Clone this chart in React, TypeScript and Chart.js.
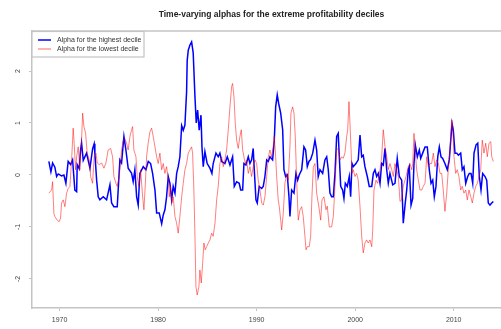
import { useEffect, useRef } from "react";
import { Chart, registerables } from "chart.js";

Chart.register(...registerables);

const TITLE = "Time-varying alphas for the extreme profitability deciles";
const SERIES_LABELS = ["Alpha for the highest decile", "Alpha for the lowest decile"];
const X_TICKS = [1970, 1980, 1990, 2000, 2010];
const Y_TICKS = [-2, -1, 0, 1, 2];
const X_MIN = 1967.2;
const X_MAX = 2014.8;
const Y_MIN = -2.56;
const Y_MAX = 2.77;

// Highest decile (blue)
const highYears = [
  1968.91, 1969.12, 1969.29, 1969.52, 1969.70, 1969.86, 1970.20, 1970.44, 1970.64, 1970.87,
  1971.12, 1971.32, 1971.55, 1971.73, 1971.79, 1971.99, 1972.13, 1972.23, 1972.40, 1972.74,
  1973.08, 1973.35, 1973.51, 1973.58, 1973.76, 1973.92, 1974.09, 1974.43, 1974.77,
  1975.11, 1975.28, 1975.51, 1975.85, 1976.12, 1976.29, 1976.53, 1976.73, 1976.96,
  1977.31, 1977.47, 1977.64, 1977.82, 1977.98, 1978.15, 1978.49, 1978.76,
  1979.00, 1979.24, 1979.44, 1979.68, 1979.85,
  1980.11, 1980.36, 1980.52, 1980.69, 1980.86, 1981.03, 1981.20, 1981.37, 1981.53, 1981.71, 1981.88,
  1982.04, 1982.21, 1982.39, 1982.55, 1982.72, 1982.89, 1982.95, 1983.06, 1983.23, 1983.40, 1983.56, 1983.74, 1983.87,
  1984.01, 1984.17, 1984.35, 1984.45, 1984.58, 1984.75, 1984.98, 1985.26, 1985.46, 1985.59, 1985.87,
  1986.10, 1986.27, 1986.45, 1986.78, 1987.02, 1987.29, 1987.56, 1987.73, 1987.97,
  1988.23, 1988.38, 1988.58, 1988.71, 1988.91, 1989.15, 1989.32, 1989.49, 1989.65, 1989.76, 1989.93,
  1990.06, 1990.26, 1990.51, 1990.67, 1990.84, 1991.02, 1991.18, 1991.35, 1991.62, 1991.79, 1991.93,
  1992.09, 1992.23, 1992.44, 1992.64, 1992.77, 1992.94, 1993.11, 1993.28, 1993.38, 1993.55, 1993.79, 1993.99,
  1994.16, 1994.32, 1994.57, 1994.80, 1994.97, 1995.14, 1995.31, 1995.48, 1995.69, 1995.92,
  1996.09, 1996.25, 1996.43, 1996.70, 1996.93, 1997.11, 1997.27, 1997.44, 1997.61, 1997.78, 1997.95,
  1998.12, 1998.28, 1998.39, 1998.53, 1998.73, 1998.86, 1999.00, 1999.20, 1999.40, 1999.54, 1999.68, 1999.81,
  2000.08, 2000.31, 2000.49, 2000.66, 2000.82, 2000.99, 2001.23, 2001.43, 2001.68, 2001.84,
  2002.01, 2002.18, 2002.35, 2002.52, 2002.69, 2002.85, 2003.03, 2003.20, 2003.36, 2003.53, 2003.81,
  2004.04, 2004.27, 2004.48, 2004.72, 2004.88, 2005.06, 2005.23, 2005.39, 2005.49, 2005.67, 2005.84, 2005.97,
  2006.10, 2006.31, 2006.51, 2006.65, 2006.85, 2007.09, 2007.32, 2007.52, 2007.70, 2007.87,
  2008.03, 2008.20, 2008.38, 2008.54, 2008.71, 2008.88, 2009.11, 2009.35, 2009.55, 2009.73, 2009.83, 2009.96,
  2010.13, 2010.31, 2010.47, 2010.71, 2010.87, 2011.04, 2011.22, 2011.42, 2011.58, 2011.76, 2011.93,
  2012.06, 2012.27, 2012.44, 2012.60, 2012.77, 2012.94, 2013.18, 2013.35, 2013.51, 2013.68, 2013.86, 2014.02,
];
const highValues = [
  0.26, 0.06, 0.23, 0.15, -0.03, 0.02, -0.02, 0.0, -0.16, 0.26,
  0.2, 0.29, -0.29, -0.32, 0.2, 0.12, 0.48, 0.62, 0.28, 0.42,
  0.13, 0.5, 0.6, 0.42, -0.1, -0.42, -0.48, -0.42, -0.48,
  -0.19, -0.54, -0.61, -0.61, 0.29, 0.23, 0.74, 0.48, 0.13,
  0.03, -0.13, 0.1, -0.42, -0.58, 0.03, 0.16, 0.1,
  0.26, 0.22, 0.03, -0.29, -0.73,
  -0.73, -0.94, -0.77, -0.67, -0.42, -0.03, -0.16, -0.48, -0.22, -0.35, 0.03,
  0.16, 0.35, 0.95, 0.86, 0.96, 1.6, 2.2, 2.4, 2.5, 2.56, 2.35, 1.5, 1.0,
  1.25, 0.86, 1.15, 0.54, 0.16, 0.45, 0.22, 0.13, 0.03, 0.22, 0.42,
  0.35, 0.42, 0.26, 0.22, 0.35, 0.19, 0.35, -0.22, -0.13,
  -0.16, -0.29, -0.29, 0.22, 0.19, 0.35, 0.22, 0.29, 0.51, 0.1, -0.48,
  -0.54, -0.22, -0.26, -0.22, -0.03, 0.29, 0.26, 0.35, 0.29, 0.67, 1.31,
  1.54, 1.38, 1.19, 0.87, 0.1, -0.03, 0.0, -0.42, -0.8, -0.29, -0.35, 0.03,
  -0.1, 0.0, 0.1, 0.54, 0.48, 0.16, 0.26, 0.3, 0.42, 0.67,
  0.48, -0.03, 0.1, 0.03, 0.29, 0.35, 0.1, -0.35, -0.42, -0.42, 0.03,
  0.74, 0.8, 0.35, -0.22, -0.29, -0.45, -0.16, -0.22, -0.03, -0.42, 0.22, 0.16,
  0.22, 0.29, 0.77, 0.35, 0.38, 0.16, -0.03, -0.22, -0.22, 0.03,
  0.1, -0.03, 0.03, -0.16, 0.22, 0.19, 0.51, 0.1, -0.16, 0.03, -0.19,
  -0.16, 0.32, -0.03, -0.1, -0.93, -0.58, -0.29, 0.1, 0.16, -0.58, -0.45, 0.22,
  0.58, 0.35, 0.48, 0.32, 0.42, 0.54, 0.54, 0.1, -0.16, -0.1,
  -0.42, -0.22, 0.35, 0.54, 0.35, 0.32, 0.22, 0.1, 0.29, 0.74, 0.99, 0.86,
  0.42, 0.42, 0.38, 0.42, 0.1, 0.16, -0.16, -0.03, 0.03, 0.03, -0.16,
  0.42, 0.58, 0.61, -0.03, -0.29, 0.03, -0.03, -0.1, -0.54, -0.58, -0.54, -0.51,
];

// Lowest decile (red)
const lowYears = [
  1968.91, 1969.19, 1969.29, 1969.42, 1969.52, 1969.76, 1969.96, 1970.10, 1970.20, 1970.37, 1970.54, 1970.71, 1970.87,
  1971.05, 1971.22, 1971.32, 1971.38, 1971.48, 1971.62, 1971.73, 1971.89, 1972.06, 1972.23, 1972.34, 1972.47, 1972.64, 1972.80,
  1973.01, 1973.15, 1973.35, 1973.51, 1973.69, 1973.82, 1974.02, 1974.26, 1974.50, 1974.70, 1974.93,
  1975.18, 1975.38, 1975.51, 1975.72, 1975.85, 1976.05, 1976.29, 1976.46, 1976.63, 1976.80, 1976.96,
  1977.14, 1977.31, 1977.41, 1977.54, 1977.75, 1977.88, 1978.05, 1978.22, 1978.43, 1978.56, 1978.69, 1978.83, 1978.99,
  1979.17, 1979.34, 1979.50, 1979.68, 1979.85,
  1980.01, 1980.18, 1980.36, 1980.52, 1980.69, 1980.86, 1981.03, 1981.13, 1981.27, 1981.40, 1981.53, 1981.71, 1981.88,
  1982.04, 1982.21, 1982.39, 1982.55, 1982.72, 1982.89, 1983.06, 1983.23, 1983.40, 1983.50, 1983.63, 1983.74, 1983.84, 1983.97,
  1984.14, 1984.24, 1984.38, 1984.52, 1984.65, 1984.78, 1984.92, 1985.09, 1985.26, 1985.43, 1985.59, 1985.77, 1985.94,
  1986.10, 1986.27, 1986.45, 1986.61, 1986.78, 1986.95, 1987.12, 1987.29, 1987.46, 1987.56, 1987.70, 1987.83, 1987.97,
  1988.13, 1988.30, 1988.44, 1988.58, 1988.71, 1988.84, 1988.98, 1989.15, 1989.32, 1989.49, 1989.65, 1989.83,
  1990.00, 1990.16, 1990.34, 1990.51, 1990.67, 1990.84, 1991.02, 1991.18, 1991.35, 1991.52, 1991.68, 1991.79, 1991.93,
  1992.03, 1992.19, 1992.30, 1992.44, 1992.54, 1992.70, 1992.87, 1993.05, 1993.21, 1993.38, 1993.48, 1993.65, 1993.79, 1993.92,
  1994.06, 1994.22, 1994.40, 1994.57, 1994.73, 1994.90, 1995.01, 1995.14, 1995.34, 1995.48, 1995.61, 1995.75, 1995.92,
  1996.09, 1996.36, 1996.50, 1996.63, 1996.83, 1997.04, 1997.17, 1997.37, 1997.61, 1997.78, 1997.95,
  1998.12, 1998.28, 1998.46, 1998.63, 1998.79, 1998.96, 1999.14, 1999.24, 1999.37, 1999.47, 1999.57, 1999.68, 1999.81, 1999.98,
  2000.15, 2000.31, 2000.49, 2000.66, 2000.82, 2000.99, 2001.16, 2001.33, 2001.50, 2001.68, 2001.78, 2001.91,
  2002.11, 2002.28, 2002.52, 2002.69, 2002.85, 2003.03, 2003.20, 2003.36, 2003.53, 2003.71, 2003.87,
  2004.04, 2004.21, 2004.38, 2004.55, 2004.72, 2004.88, 2005.16, 2005.39, 2005.56, 2005.74, 2005.84, 2005.97,
  2006.07, 2006.24, 2006.41, 2006.58, 2006.75, 2006.91, 2007.09, 2007.26, 2007.42, 2007.59, 2007.76, 2007.93,
  2008.10, 2008.27, 2008.44, 2008.61, 2008.78, 2008.94, 2009.11, 2009.29, 2009.45, 2009.62, 2009.80, 2009.90,
  2010.03, 2010.20, 2010.36, 2010.53, 2010.71, 2010.87, 2011.04, 2011.22, 2011.38, 2011.55, 2011.73, 2011.89,
  2012.06, 2012.23, 2012.40, 2012.57, 2012.74, 2012.90, 2013.07, 2013.25, 2013.41, 2013.58, 2013.76, 2013.86, 2014.02,
];
const lowValues = [
  -0.35, -0.29, -0.13, -0.74, -0.8, -0.87, -0.9, -0.83, -0.54, -0.48, -0.61, -0.35, -0.26,
  -0.22, 0.29, 0.67, 0.9, 0.61, 0.1, 0.35, 0.54, 0.1, 0.67, 1.19, 0.93, 0.8, 0.42,
  0.29, -0.03, -0.16, 0.35, 0.42, 0.23, 0.2, 0.23, 0.13, 0.23, 0.48,
  0.51, 0.35, -0.03, -0.16, -0.22, -0.03, 0.48, 0.67, 0.7, 0.61, 0.48,
  0.74, 0.87, 0.93, 0.48, 0.35, -0.03, -0.22, 0.1, -0.42, -0.67, -0.22, 0.35, 0.61,
  0.83, 0.9, 0.74, 0.54, 0.35,
  0.22, 0.42, 0.1, 0.22, 0.03, 0.16, -0.1, -0.42, -0.22, -0.54, -0.42, -0.8, -0.93,
  -1.12, -0.8, -0.42, -0.16, 0.1, 0.22, 0.42, 0.48, 0.54, 0.42, -0.29, -1.18, -2.15, -2.31,
  -2.15, -1.83, -2.08, -1.7, -1.31, -1.44, -1.38, -1.31, -1.25, -1.12, -1.18, -0.93, -0.48,
  -0.22, 0.22, 0.35, 0.16, 0.29, 0.48, 0.87, 1.31, 1.7, 1.76, 1.5, 0.99, 0.67,
  0.51, 0.74, 0.87, 0.48, 0.35, 0.22, 0.29, 0.03, 0.16, -0.03, 0.16, 0.29,
  0.22, -0.1, -0.29, -0.54, -0.58, -0.42, -0.03, 0.35, 0.48, 0.35, 0.54, 0.74, 0.35,
  -0.03, -0.48, -0.61, -0.87, -1.06, -0.74, -0.16, 0.03, -0.1, 0.54, 1.19, 1.31, 1.19, 0.74,
  -0.1, -0.87, -0.67, -0.61, -0.8, -1.18, -1.44, -1.38, -1.38, -1.18, -0.42, 0.15, 0.22,
  -0.35, -0.67, -0.87, -0.48, -0.42, -0.67, -0.6, -1.0, -1.0, -0.8, -0.22,
  0.48, 0.51, 0.29, 0.35, 0.32, 0.42, 0.74, 0.87, 1.41, 0.99, 0.54, 0.03, 0.1, -0.03,
  0.03, -0.1, -0.61, -1.18, -1.5, -1.31, -1.25, -1.31, -1.25, -1.38, -1.06, -0.29,
  -0.1, -0.16, 0.1, 0.35, 0.87, 0.54, 0.35, 0.1, 0.22, 0.1, -0.03,
  0.22, 0.1, -0.03, -0.51, -0.48, -0.22, -0.03, 0.16, 0.22, 0.1, 0.22, 0.8,
  0.54, 0.1, -0.1, -0.29, -0.29, -0.22, -0.16, 0.35, 0.16, 0.22, 0.22, 0.42,
  0.16, 0.29, 0.22, 0.03, 0.03, -0.29, -0.7, -0.35, 0.1, 0.48, 1.06, 0.93,
  0.35, 0.03, 0.1, -0.03, -0.29, -0.22, -0.35, -0.29, -0.48, -0.29, -0.42, -0.54,
  -0.35, -0.22, -0.16, -0.03, 0.1, 0.67, 0.42, 0.61, 0.35, 0.61, 0.64, 0.35, 0.26,
];

const FONT = "'Liberation Sans', Arial, Helvetica, sans-serif";
const FRAME = "#c4c4c4";
const BLUE = "#0000ff";
const RED = "rgba(255,0,0,0.5)";

const decorPlugin = {
  id: "decor",
  afterDraw(chart: any) {
    const ctx = chart.ctx as CanvasRenderingContext2D;
    const area = chart.chartArea;
    const xs = chart.scales.x;
    const ys = chart.scales.y;
    ctx.save();
    // top frame line
    ctx.strokeStyle = FRAME;
    ctx.lineWidth = 1.5;
    ctx.beginPath();
    ctx.moveTo(area.left - 0.75, area.top);
    ctx.lineTo(area.right, area.top);
    ctx.stroke();

    // title
    ctx.fillStyle = "#222";
    ctx.font = `bold 8.5px ${FONT}`;
    ctx.textAlign = "center";
    ctx.textBaseline = "middle";
    ctx.fillText(TITLE, 271.5, 15);

    // x tick labels
    ctx.fillStyle = "#444";
    ctx.font = `7px ${FONT}`;
    ctx.textAlign = "center";
    ctx.textBaseline = "middle";
    X_TICKS.forEach((v) => {
      ctx.fillText(String(v), xs.getPixelForValue(v), 320.5);
    });
    // y tick labels (rotated)
    Y_TICKS.forEach((v) => {
      const py = ys.getPixelForValue(v);
      ctx.save();
      ctx.translate(18.3, py);
      ctx.rotate(-Math.PI / 2);
      ctx.fillText(String(v), 0, 0);
      ctx.restore();
    });

    // legend box
    const lx = area.left;
    const ly = area.top + 0.5;
    const lw = 112;
    const lh = 25.5;
    ctx.fillStyle = "#fff";
    ctx.fillRect(lx, ly, lw, lh);
    ctx.strokeStyle = FRAME;
    ctx.lineWidth = 1.2;
    ctx.strokeRect(lx, ly, lw, lh);
    const items = [
      { label: chart.data.datasets[0].label, color: BLUE, width: 1.5, y: 40 },
      { label: chart.data.datasets[1].label, color: RED, width: 1.2, y: 49 },
    ];
    items.forEach((it) => {
      ctx.strokeStyle = it.color;
      ctx.lineWidth = it.width;
      ctx.beginPath();
      ctx.moveTo(38, it.y);
      ctx.lineTo(51, it.y);
      ctx.stroke();
      ctx.fillStyle = "#333";
      ctx.font = `7px ${FONT}`;
      ctx.textAlign = "left";
      ctx.textBaseline = "middle";
      ctx.fillText(it.label, 57, it.y);
    });
    ctx.restore();
  },
};

export default function App() {
  const ref = useRef<HTMLCanvasElement>(null);
  useEffect(() => {
    const chart = new Chart(ref.current as HTMLCanvasElement, {
      type: "line",
      data: {
        datasets: [
          {
            label: SERIES_LABELS[0],
            data: highYears.map((x, i) => ({ x, y: highValues[i] })),
            borderColor: BLUE,
            borderWidth: 1.5,
            pointRadius: 0,
            tension: 0,
            order: 1,
          },
          {
            label: SERIES_LABELS[1],
            data: lowYears.map((x, i) => ({ x, y: lowValues[i] })),
            borderColor: RED,
            borderWidth: 1,
            pointRadius: 0,
            tension: 0,
            order: 0,
          },
        ],
      },
      options: {
        animation: false,
        responsive: false,
        devicePixelRatio: 1,
        layout: { padding: { top: 31, left: 0, right: 0, bottom: 0 } },
        plugins: {
          legend: { display: false },
          tooltip: { enabled: false },
          title: { display: false },
        },
        scales: {
          x: {
            type: "linear",
            min: X_MIN,
            max: X_MAX,
            afterFit: (s: any) => {
              s.height = 21;
            },
            afterBuildTicks: (s: any) => {
              s.ticks = X_TICKS.map((v) => ({ value: v }));
            },
            ticks: { display: false },
            grid: { drawOnChartArea: false, drawTicks: true, tickLength: 3, color: FRAME, lineWidth: 1 },
            border: { display: true, color: FRAME, width: 1.5 },
          },
          y: {
            type: "linear",
            min: Y_MIN,
            max: Y_MAX,
            afterFit: (s: any) => {
              s.width = 32;
            },
            afterBuildTicks: (s: any) => {
              s.ticks = Y_TICKS.map((v) => ({ value: v }));
            },
            ticks: { display: false },
            grid: { drawOnChartArea: false, drawTicks: true, tickLength: 3, color: FRAME, lineWidth: 1 },
            border: { display: true, color: FRAME, width: 1.5 },
          },
        },
      },
      plugins: [decorPlugin],
    });
    return () => chart.destroy();
  }, []);
  return (
    <div style={{ position: "fixed", left: 0, top: 0, width: 501, height: 329, background: "#fff" }}>
      <canvas ref={ref} width={501} height={329} style={{ display: "block", width: 501, height: 329 }} />
    </div>
  );
}
